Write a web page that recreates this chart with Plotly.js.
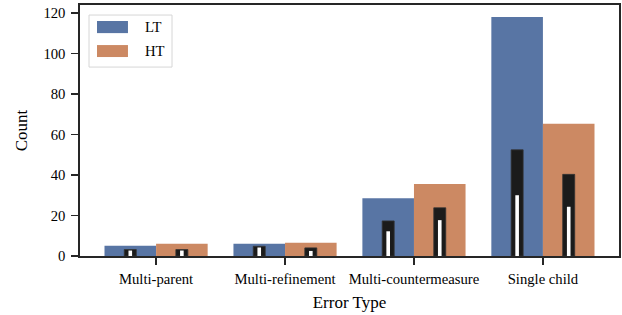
<!DOCTYPE html>
<html>
<head>
<meta charset="utf-8">
<script src="https://cdn.plot.ly/plotly-3.0.1.min.js"></script>
<style>
  html, body { margin: 0; padding: 0; background: #ffffff; }
  #chart { width: 622px; height: 315px; }
</style>
</head>
<body>
<div id="chart"></div>
<script>
// ---- data ----
const categories = ['Multi-parent', 'Multi-refinement', 'Multi-countermeasure', 'Single child'];
const seriesNames = ['LT', 'HT'];
const ltCounts = [5, 6, 28.5, 118];
const htCounts = [6, 6.5, 35.5, 65.3];
const ltInner = [3.2, 4.8, 17.3, 52.4];
const ltInnermost = [2.7, 4.2, 12.2, 30];
const htInner = [3.2, 4, 23.8, 40.3];
const htInnermost = [2.7, 2.5, 17.7, 24.3];
const yTicks = [0, 20, 40, 60, 80, 100, 120];

// ---- style ----
const FONT = 'Liberation Serif';
const BLUE = '#5875A4';
const ORANGE = '#CC8963';
const DARK = '#1b1b1b';
const AXIS = '#262626';
const groupW = 0.4, innerW = 0.093, innermostW = 0.028;

function bar(vals, offsetCenter, w, color, name, line) {
  return {
    type: 'bar', x: categories, y: vals, name: name,
    width: w, offset: offsetCenter - w / 2,
    marker: { color: color, line: line || { width: 0 } },
    showlegend: false, hoverinfo: 'skip'
  };
}

const traces = [
  bar(ltCounts, -groupW / 2, groupW, BLUE, seriesNames[0]),
  bar(htCounts, groupW / 2, groupW, ORANGE, seriesNames[1]),
  bar(ltInner, -groupW / 2, innerW, DARK, 'LT inner', { width: 0.8, color: '#333' }),
  bar(htInner, groupW / 2, innerW, DARK, 'HT inner', { width: 0.8, color: '#333' }),
  bar(ltInnermost, -groupW / 2, innermostW, '#ffffff', 'LT innermost'),
  bar(htInnermost, groupW / 2, innermostW, '#ffffff', 'HT innermost')
];

// legend drawn as paper-space shapes + annotations
const legBox = { x0: 0.0167, x1: 0.1707, y0: 0.7527, y1: 0.960 };
const legRows = [
  { name: seriesNames[0], color: BLUE, y0: 0.888, y1: 0.9362, ty: 0.9122 },
  { name: seriesNames[1], color: ORANGE, y0: 0.7927, y1: 0.8404, ty: 0.8165 }
];
const shapes = [{
  type: 'rect', xref: 'paper', yref: 'paper', layer: 'above',
  x0: legBox.x0, x1: legBox.x1, y0: legBox.y0, y1: legBox.y1,
  fillcolor: 'rgba(255,255,255,0.8)', line: { color: '#d6d6d6', width: 1 }
}];
const annotations = [];
legRows.forEach(r => {
  shapes.push({
    type: 'rect', xref: 'paper', yref: 'paper', layer: 'above',
    x0: 0.0315, x1: 0.089, y0: r.y0, y1: r.y1,
    fillcolor: r.color, line: { width: 0 }
  });
  annotations.push({
    xref: 'paper', yref: 'paper', x: 0.1169, y: r.ty, xanchor: 'left', yanchor: 'middle',
    text: r.name, showarrow: false, font: { family: FONT, size: 14.7, color: '#000' }
  });
});

const layout = {
  width: 622, height: 315,
  margin: { l: 80, r: 3, t: 5, b: 59, pad: 0 },
  paper_bgcolor: '#ffffff', plot_bgcolor: '#ffffff',
  barmode: 'overlay',
  font: { family: FONT, size: 14.7, color: '#000' },
  showlegend: false,
  xaxis: {
    type: 'category', range: [-0.59, 3.59],
    showgrid: false, zeroline: false,
    showline: true, mirror: true, linecolor: AXIS, linewidth: 1.6,
    ticks: 'outside', ticklen: 7, tickwidth: 1.5, tickcolor: AXIS,
    ticklabelstandoff: 2,
    tickfont: { family: FONT, size: 14.7, color: '#000' },
    title: { text: 'Error Type', font: { family: FONT, size: 17, color: '#000' }, standoff: 10 }
  },
  yaxis: {
    range: [0, 123.9], tickvals: yTicks, ticktext: yTicks.map(String),
    showgrid: false, zeroline: false,
    showline: true, mirror: true, linecolor: AXIS, linewidth: 1.6,
    ticks: 'outside', ticklen: 7, tickwidth: 1.5, tickcolor: AXIS,
    ticklabelstandoff: 3,
    tickfont: { family: FONT, size: 14.7, color: '#000' },
    title: { text: 'Count', font: { family: FONT, size: 17, color: '#000' }, standoff: 11 }
  },
  shapes: shapes,
  annotations: annotations
};

Plotly.newPlot('chart', traces, layout, { displayModeBar: false, staticPlot: true });
</script>
</body>
</html>
